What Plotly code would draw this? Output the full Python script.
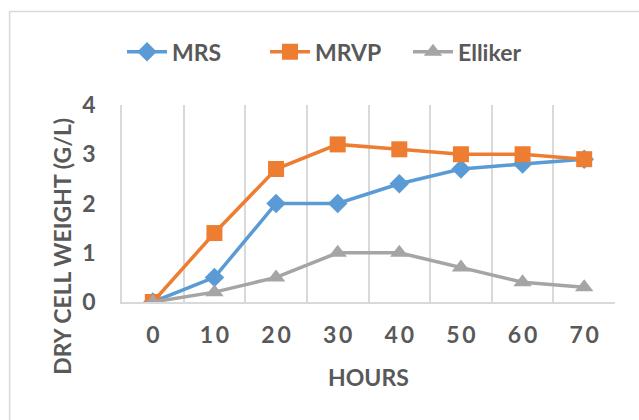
import plotly.graph_objects as go

# Dry cell weight (g/L) measured over time in three media
hours = [0, 10, 20, 30, 40, 50, 60, 70]
mrs = [0, 0.5, 2.0, 2.0, 2.4, 2.7, 2.8, 2.9]
mrvp = [0, 1.4, 2.7, 3.2, 3.1, 3.0, 3.0, 2.9]
elliker = [0, 0.2, 0.5, 1.0, 1.0, 0.7, 0.4, 0.3]
y_ticks = [0, 1, 2, 3, 4]

TEXT = "#595959"
GRID = "#D9D9D9"
FONT = "Lato"
FS = 23

series = [
    ("MRS", mrs, "#5B9BD5", "diamond", 15),
    ("MRVP", mrvp, "#ED7D31", "square", 16),
    ("Elliker", elliker, "#A5A5A5", "triangle-up", 16),
]

fig = go.Figure()
for name, vals, color, symbol, size in series:
    fig.add_trace(go.Scatter(
        x=hours, y=vals, name=name, mode="lines+markers",
        line=dict(color=color, width=3.5),
        marker=dict(symbol=symbol, size=size, color=color),
    ))

bold = dict(family=FONT, size=FS, color=TEXT, weight="bold")

fig.update_layout(
    width=639, height=420,
    margin=dict(l=122, r=24, t=105, b=118),
    paper_bgcolor="white", plot_bgcolor="white",
    font=dict(family=FONT, size=FS, color=TEXT),
    showlegend=True,
    legend=dict(
        orientation="h", x=0.0, xanchor="left", y=1.27, yanchor="middle",
        font=bold, itemwidth=40, tracegroupgap=0,
        entrywidth=88, entrywidthmode="pixels",
    ),
    xaxis=dict(
        range=[-5, 75], tickvals=hours,
        ticktext=["\u2009".join(str(h)) for h in hours],
        showgrid=False, zeroline=False,
        showline=True, linecolor=GRID, linewidth=1.5,
        ticks="outside", ticklen=0, ticklabelstandoff=12,
        tickfont=bold,
        minor=dict(tick0=5, dtick=10, showgrid=True, gridcolor=GRID, gridwidth=1.5),
    ),
    yaxis=dict(
        range=[0, 4], tickvals=y_ticks, showgrid=False, zeroline=False,
        showline=True, linecolor=GRID, linewidth=1.5,
        ticks="outside", ticklen=0, ticklabelstandoff=20,
        tickfont=bold,
    ),
    annotations=[
        dict(text="DRY CELL WEIGHT (G/L)", xref="paper", yref="paper",
             x=-0.1217, y=0.28, xanchor="center", yanchor="middle",
             textangle=-90, showarrow=False, font=bold),
        dict(text="HOURS", xref="paper", yref="paper",
             x=0.5, y=-0.38, xanchor="center", yanchor="middle",
             showarrow=False, font=bold),
    ],
    shapes=[
        dict(type="rect", xref="paper", yref="paper",
             x0=-0.228, x1=1.3, y0=-1.0, y1=1.4746,
             line=dict(color=GRID, width=1.5), fillcolor="rgba(0,0,0,0)",
             layer="below"),
    ],
)

fig.write_html("out.html")
